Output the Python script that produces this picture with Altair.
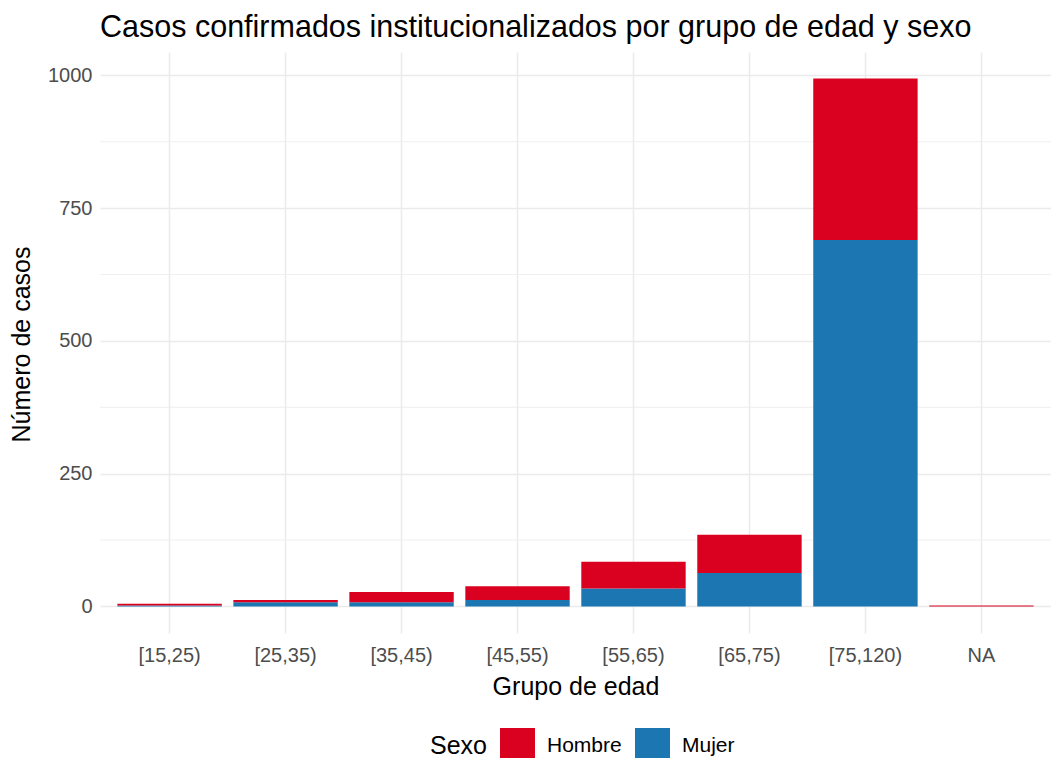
import altair as alt
import pandas as pd

grupos = ["[15,25)", "[25,35)", "[35,45)", "[45,55)", "[55,65)", "[65,75)", "[75,120)", "NA"]
mujer = [2, 8, 8, 12, 34, 63, 690, 0]
hombre = [3, 4, 19, 26, 50, 72, 304, 2]
sexos = ["Hombre", "Mujer"]
colores = ["#DA001F", "#1B76B1"]
y_ticks = [0, 250, 500, 750, 1000]
y_minor = [125, 375, 625, 875]

rows = []
for g, m, h in zip(grupos, mujer, hombre):
    rows.append({"grupo": g, "Sexo": "Mujer", "n": m, "ord": 0})
    rows.append({"grupo": g, "Sexo": "Hombre", "n": h, "ord": 1})
df = pd.DataFrame(rows)
minor_df = pd.DataFrame({"v": y_minor})

FONT = "Liberation Sans"
ydom = [-50, 1044]
W, H = 951, 581

y_axis = alt.Axis(title="Número de casos", values=y_ticks, format="d", grid=True,
                  gridColor="#EBEBEB", gridWidth=1.5, ticks=False, domain=False,
                  labelFontSize=20, labelColor="#4D4D4D", labelPadding=8,
                  titleFontSize=25, titleFontWeight="normal", titleColor="#000000",
                  titleX=-79, titleY=292, titleBaseline="middle", titleAlign="center",
                  titleAngle=270, labelFont=FONT, titleFont=FONT)
y_scale = alt.Scale(domain=ydom, nice=False, zero=False)

x_enc = alt.X("grupo:N", sort=grupos,
              scale=alt.Scale(paddingInner=0.1, paddingOuter=0.15),
              axis=alt.Axis(title="Grupo de edad", bandPosition=0.5, grid=True,
                            gridColor="#EBEBEB", gridWidth=1.5, ticks=False, domain=False,
                            labelAngle=0, labelFontSize=20, labelColor="#4D4D4D",
                            labelPadding=12, titleFontSize=25, titleFontWeight="normal",
                            titleColor="#000000", titleY=53, titleBaseline="middle",
                            labelFont=FONT, titleFont=FONT))

minor = alt.Chart(minor_df).mark_rule(color="#EBEBEB", strokeWidth=0.8).encode(
    y=alt.Y("v:Q", scale=y_scale, axis=y_axis)
)

bars = alt.Chart(df).mark_bar().encode(
    x=x_enc,
    y=alt.Y("sum(n):Q", stack="zero", scale=y_scale, axis=y_axis),
    color=alt.Color("Sexo:N", scale=alt.Scale(domain=sexos, range=colores),
                    legend=alt.Legend(orient="none", direction="horizontal", legendX=330,
                                      legendY=676, titleOrient="left", symbolType="square",
                                      symbolSize=1225, symbolStrokeWidth=0, labelFontSize=21,
                                      titleFontSize=25, titleFontWeight="normal",
                                      labelFont=FONT, titleFont=FONT, columnPadding=13,
                                      labelOffset=12, titlePadding=13, labelColor="#000000",
                                      titleColor="#000000")),
    order=alt.Order("ord:Q"),
)

chart = alt.layer(minor, bars).properties(
    width=W, height=H,
    background="white",
    title=alt.TitleParams("Casos confirmados institucionalizados por grupo de edad y sexo",
                          anchor="start", frame="group", fontSize=30.5, font=FONT,
                          fontWeight="normal", color="#000000", offset=9),
    padding={"left": 92, "top": 44, "right": 0, "bottom": 125},
    autosize=alt.AutoSizeParams(type="none"),
).configure_view(strokeWidth=0).configure_axis(domain=False, ticks=False)

chart.save("out.html", embed_options={"renderer": "svg", "actions": False})
